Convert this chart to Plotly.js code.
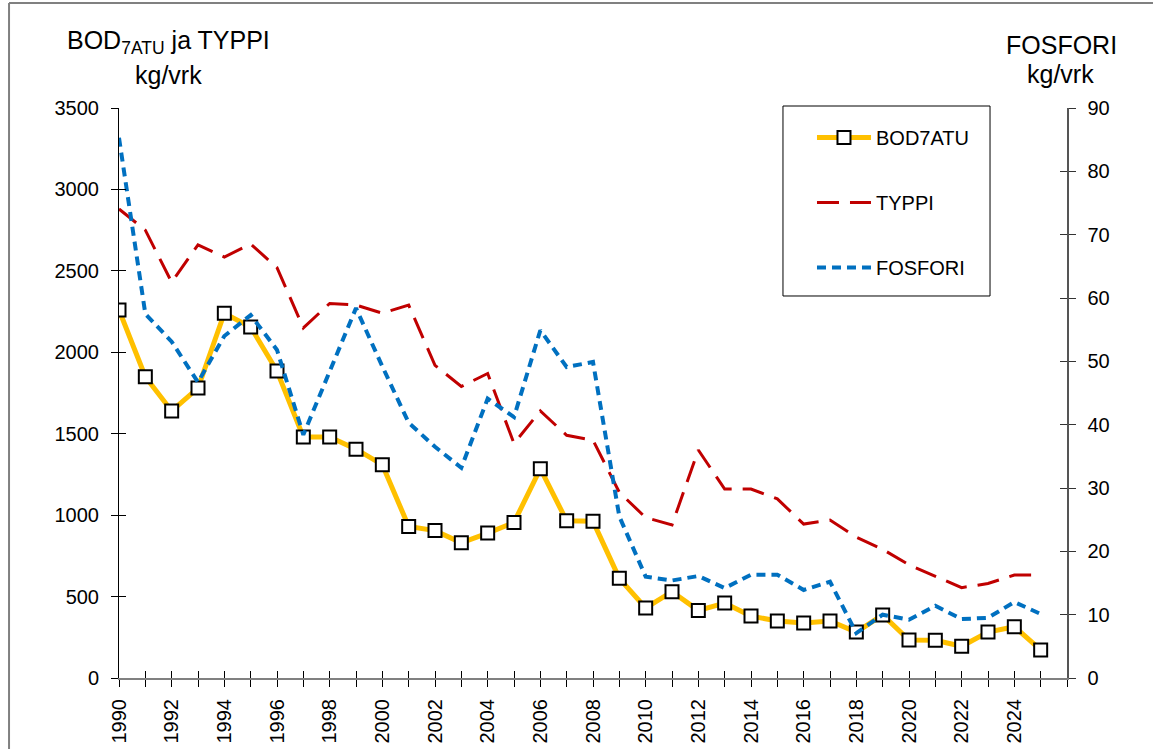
<!DOCTYPE html>
<html>
<head>
<meta charset="utf-8">
<script src="https://cdn.plot.ly/plotly-3.0.1.min.js"></script>
<style>
  html, body { margin: 0; padding: 0; background: #fff; }
  #chart { width: 1159px; height: 749px; }
</style>
</head>
<body>
<div id="chart"></div>
<script>
const years = [1990,1991,1992,1993,1994,1995,1996,1997,1998,1999,2000,2001,2002,2003,2004,2005,2006,2007,2008,2009,2010,2011,2012,2013,2014,2015,2016,2017,2018,2019,2020,2021,2022,2023,2024,2025];

const bod7atu = [2260,1850,1640,1780,2240,2155,1885,1480,1480,1405,1310,930,905,830,890,955,1285,965,962,612,430,530,415,460,380,350,338,350,282,387,233,232,195,282,315,172];

const typpi = [2880,2750,2430,2660,2585,2665,2520,2150,2300,2290,2240,2290,1920,1790,1870,1440,1640,1490,1460,1140,985,940,1400,1160,1160,1100,945,970,865,790,695,625,555,580,632,632];

const fosfori = [85.3,57.5,53.1,46.7,54.0,57.3,51.8,38.4,48.4,58.4,49.2,40.3,36.5,33.2,44.1,41.2,54.9,49.1,49.9,25.5,16.0,15.4,16.1,14.2,16.3,16.3,13.9,15.2,7.1,10.0,9.2,11.4,9.3,9.5,12.0,10.1];

const xLabelVals = [1990,1992,1994,1996,1998,2000,2002,2004,2006,2008,2010,2012,2014,2016,2018,2020,2022,2024];
const xLabelText = ['1990','1992','1994','1996','1998','2000','2002','2004','2006','2008','2010','2012','2014','2016','2018','2020','2022','2024'];
const xMinorVals = [1991,1993,1995,1997,1999,2001,2003,2005,2007,2009,2011,2013,2015,2017,2019,2021,2023,2025,2026];
const xAllTicks = [1990,1991,1992,1993,1994,1995,1996,1997,1998,1999,2000,2001,2002,2003,2004,2005,2006,2007,2008,2009,2010,2011,2012,2013,2014,2015,2016,2017,2018,2019,2020,2021,2022,2023,2024,2025,2026];

const leftTicks = [0,500,1000,1500,2000,2500,3000,3500];
const rightTicks = [0,10,20,30,40,50,60,70,80,90];

const FONT = 'Liberation Sans, Arial, sans-serif';

const traces = [
  {
    x: years, y: typpi, name: 'TYPPI', type: 'scatter', mode: 'lines',
    xaxis: 'x', yaxis: 'y',
    line: {color: '#C00000', width: 3, dash: '22px,11px'},
    legendgroup: 'b', legendrank: 2, hoverinfo: 'x+y'
  },
  {
    x: years, y: bod7atu, name: 'BOD7ATU', type: 'scatter', mode: 'lines+markers',
    xaxis: 'x', yaxis: 'y',
    line: {color: '#FFC000', width: 5},
    marker: {symbol: 'square', size: 13, color: '#FFFFFF', line: {color: '#000000', width: 2}},
    legendgroup: 'a', legendrank: 1, hoverinfo: 'x+y'
  },
  {
    x: years, y: fosfori, name: 'FOSFORI', type: 'scatter', mode: 'lines',
    xaxis: 'x', yaxis: 'y2',
    line: {color: '#0070C0', width: 4, dash: '9px,6px'},
    legendgroup: 'c', legendrank: 3, hoverinfo: 'x+y'
  },
  // helper traces so that the inner-tick overlay axes are drawn
  {x: [null], y: [null], xaxis: 'x2', yaxis: 'y3', showlegend: false, hoverinfo: 'skip', type: 'scatter', mode: 'lines'},
  {x: [null], y: [null], xaxis: 'x2', yaxis: 'y4', showlegend: false, hoverinfo: 'skip', type: 'scatter', mode: 'lines'}
];

const tickFont = {family: FONT, size: 20, color: '#000'};

const layout = {
  width: 1159, height: 749,
  margin: {l: 119, r: 92, t: 108, b: 71, pad: 0},
  paper_bgcolor: '#fff', plot_bgcolor: '#fff',
  showlegend: true,
  font: {family: FONT, color: '#000'},
  xaxis: {
    range: [1990, 2026], tickmode: 'array', tickvals: xLabelVals, ticktext: xLabelText,
    tickangle: -90, ticks: 'outside', ticklen: 7, tickwidth: 1, tickcolor: '#000',
    minor: {tickmode: 'array', tickvals: xMinorVals, ticks: 'outside', ticklen: 7, tickwidth: 1, tickcolor: '#000', showgrid: false},
    showline: true, linecolor: '#808080', linewidth: 2, showgrid: false, zeroline: false,
    tickfont: tickFont, ticklabelstandoff: 4, fixedrange: true
  },
  xaxis2: {
    overlaying: 'x', anchor: 'y', side: 'bottom', range: [1990, 2026],
    tickmode: 'array', tickvals: xAllTicks, ticks: 'inside', ticklen: 7, tickwidth: 1, tickcolor: '#000',
    showticklabels: false, showline: false, showgrid: false, zeroline: false
  },
  yaxis: {
    range: [0, 3500], tickmode: 'array', tickvals: leftTicks,
    ticks: 'outside', ticklen: 7, tickwidth: 1, tickcolor: '#000',
    showline: true, linecolor: '#000', linewidth: 1, showgrid: false, zeroline: false,
    tickfont: tickFont, ticklabelstandoff: 8
  },
  yaxis3: {
    overlaying: 'y', anchor: 'x', side: 'left', range: [0, 3500], tickmode: 'array', tickvals: leftTicks,
    ticks: 'inside', ticklen: 7, tickwidth: 1, tickcolor: '#000',
    showticklabels: false, showline: false, showgrid: false, zeroline: false
  },
  yaxis2: {
    overlaying: 'y', side: 'right', anchor: 'x', range: [0, 90], tickmode: 'array', tickvals: rightTicks,
    ticks: 'outside', ticklen: 7, tickwidth: 1, tickcolor: '#333',
    showline: true, linecolor: '#555', linewidth: 1.5, showgrid: false, zeroline: false,
    tickfont: tickFont, ticklabelstandoff: 8
  },
  yaxis4: {
    overlaying: 'y', side: 'right', anchor: 'x', range: [0, 90], tickmode: 'array', tickvals: rightTicks,
    ticks: 'inside', ticklen: 7, tickwidth: 1, tickcolor: '#333',
    showticklabels: false, showline: false, showgrid: false, zeroline: false
  },
  legend: {
    x: 0.731, y: 0.9825, xanchor: 'left', yanchor: 'top',
    bgcolor: 'rgba(0,0,0,0)', borderwidth: 0,
    font: {family: FONT, size: 20, color: '#000'},
    traceorder: 'grouped', tracegroupgap: 36, itemwidth: 54
  },
  annotations: [
    {xref: 'paper', yref: 'paper', x: 0.0517, y: 1.1158, xanchor: 'center', yanchor: 'middle', showarrow: false,
     text: 'BOD<sub>7ATU</sub> ja TYPPI', font: {family: FONT, size: 25, color: '#000'}},
    {xref: 'paper', yref: 'paper', x: 0.0517, y: 1.0579, xanchor: 'center', yanchor: 'middle', showarrow: false,
     text: 'kg/vrk', font: {family: FONT, size: 25, color: '#000'}},
    {xref: 'paper', yref: 'paper', x: 0.9937, y: 1.1105, xanchor: 'center', yanchor: 'middle', showarrow: false,
     text: 'FOSFORI', font: {family: FONT, size: 25, color: '#000'}},
    {xref: 'paper', yref: 'paper', x: 0.9927, y: 1.0597, xanchor: 'center', yanchor: 'middle', showarrow: false,
     text: 'kg/vrk', font: {family: FONT, size: 25, color: '#000'}}
  ],
  shapes: [
    {type: 'line', xref: 'paper', yref: 'paper', x0: -0.1160, x1: 1.0907, y0: 1.1842, y1: 1.1842,
     line: {color: '#808080', width: 2}},
    {type: 'line', xref: 'paper', yref: 'paper', x0: -0.1160, x1: -0.1160, y0: 1.1842, y1: -0.2,
     line: {color: '#808080', width: 2}},
    {type: 'rect', xref: 'paper', yref: 'paper', x0: 0.7004, x1: 0.9188, y0: 0.6702, y1: 1.0035,
     fillcolor: '#FFFFFF', line: {color: '#000000', width: 1}, layer: 'above'}
  ]
};

Plotly.newPlot('chart', traces, layout, {displayModeBar: false, staticPlot: true});
</script>
</body>
</html>
